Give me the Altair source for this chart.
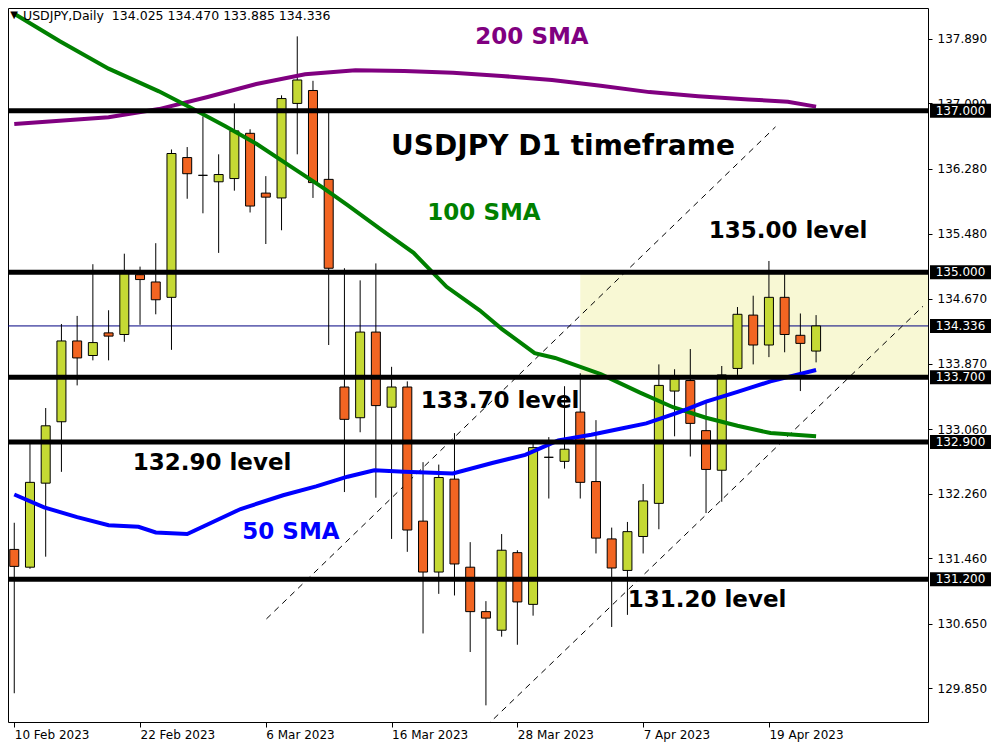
import altair as alt
import pandas as pd

# ---------------- data ----------------
dates = ["10 Feb 2023", "13 Feb 2023", "14 Feb 2023", "15 Feb 2023", "16 Feb 2023", "17 Feb 2023",
         "20 Feb 2023", "21 Feb 2023", "22 Feb 2023", "23 Feb 2023", "24 Feb 2023", "27 Feb 2023",
         "28 Feb 2023", "1 Mar 2023", "2 Mar 2023", "3 Mar 2023", "6 Mar 2023", "7 Mar 2023",
         "8 Mar 2023", "9 Mar 2023", "10 Mar 2023", "13 Mar 2023", "14 Mar 2023", "15 Mar 2023",
         "16 Mar 2023", "17 Mar 2023", "20 Mar 2023", "21 Mar 2023", "22 Mar 2023", "23 Mar 2023",
         "24 Mar 2023", "27 Mar 2023", "28 Mar 2023", "29 Mar 2023", "30 Mar 2023", "31 Mar 2023",
         "3 Apr 2023", "4 Apr 2023", "5 Apr 2023", "6 Apr 2023", "7 Apr 2023", "10 Apr 2023",
         "11 Apr 2023", "12 Apr 2023", "13 Apr 2023", "14 Apr 2023", "17 Apr 2023", "18 Apr 2023",
         "19 Apr 2023", "20 Apr 2023", "21 Apr 2023", "24 Apr 2023"]

opens = [131.57, 131.35, 132.39, 133.15, 134.15, 133.97, 134.25, 134.23, 134.97, 134.88,
         134.69, 136.42, 136.20, 136.12, 136.16, 136.72, 135.98, 135.92, 137.09, 137.25,
         136.15, 133.58, 133.20, 134.26, 133.33, 133.58, 131.92, 131.29, 132.44, 131.35,
         130.80, 130.57, 131.53, 130.89, 132.71, 132.66, 133.27, 132.41, 131.70, 131.31,
         131.73, 132.14, 133.53, 133.66, 133.04, 132.55, 133.81, 134.47, 134.10, 134.69,
         134.22, 134.025]
highs = [131.90, 132.89, 133.32, 134.36, 134.46, 135.10, 134.53, 135.23, 135.07, 135.36,
         136.52, 136.55, 136.93, 136.46, 137.09, 136.77, 136.19, 137.19, 137.92, 137.37,
         136.99, 135.05, 134.90, 135.11, 133.83, 133.65, 132.65, 132.62, 133.01, 131.66,
         130.93, 131.76, 131.56, 132.88, 132.96, 133.59, 133.75, 133.17, 131.84, 131.91,
         132.38, 133.86, 133.80, 134.05, 133.40, 133.84, 134.57, 134.71, 135.14, 134.98,
         134.49, 134.470]
lows = [129.79, 131.33, 131.48, 132.53, 133.60, 133.91, 133.91, 134.14, 134.35, 134.48,
        134.04, 135.91, 135.73, 135.24, 136.01, 135.74, 135.35, 135.52, 136.46, 135.92,
        134.10, 132.28, 133.02, 132.21, 131.70, 131.54, 130.53, 131.02, 131.00, 130.30,
        129.64, 130.49, 130.39, 130.75, 132.20, 132.57, 132.20, 131.52, 130.61, 130.76,
        131.52, 131.82, 132.97, 132.72, 132.02, 132.16, 133.73, 133.86, 133.95, 134.01,
        133.53, 133.885]
closes = [131.36, 132.40, 133.10, 134.15, 133.94, 134.13, 134.21, 135.00, 134.91, 134.66,
          136.47, 136.22, 136.20, 136.21, 136.75, 135.82, 135.93, 137.15, 137.38, 136.11,
          135.05, 133.18, 134.26, 133.35, 133.58, 131.81, 131.29, 132.46, 131.39, 130.80,
          130.72, 131.56, 130.92, 132.83, 132.71, 132.81, 132.40, 131.71, 131.34, 131.79,
          132.17, 133.60, 133.68, 133.13, 132.56, 133.73, 134.48, 134.10, 134.69, 134.23,
          134.12, 134.336]

sma50_bar = [0, 1.9, 4.0, 6.0, 7.9, 9.0, 11.0, 14.4, 17.1, 19.2, 21.2, 22.9, 24.8, 27.9,
             30.4, 32.5, 34.6, 36.7, 38.7, 40.2, 42.3, 44.0, 46.0, 48.1, 51.0]
sma50_val = [132.25, 132.09, 131.97, 131.87, 131.85, 131.78, 131.76, 132.07, 132.24, 132.35,
             132.47, 132.55, 132.53, 132.51, 132.64, 132.74, 132.92, 132.99, 133.07, 133.13,
             133.27, 133.40, 133.52, 133.65, 133.79]
sma100_bar = [0, 2.9, 6.0, 9.2, 11.2, 13.4, 15.4, 17.5, 19.6, 21.2, 23.4, 25.4, 27.5, 29.6,
              31.0, 33.1, 34.4, 37.3, 39.8, 41.9, 44.0, 46.0, 48.1, 51.0]
sma100_val = [138.20, 137.86, 137.52, 137.24, 137.04, 136.81, 136.59, 136.32, 136.05, 135.83,
              135.52, 135.24, 134.82, 134.53, 134.30, 134.00, 133.94, 133.74, 133.51, 133.33,
              133.20, 133.10, 133.01, 132.97]
sma200_bar = [0, 6.0, 9.2, 12.3, 15.4, 18.5, 21.7, 24.8, 27.9, 31.0, 34.2, 37.3, 40.4, 43.5,
              46.7, 49.2, 51.0]
sma200_val = [136.835, 136.92, 137.02, 137.17, 137.33, 137.45, 137.50, 137.49, 137.47, 137.43,
              137.38, 137.31, 137.23, 137.18, 137.14, 137.11, 137.05]

levels = [137.0, 135.0, 133.7, 132.9, 131.2]
current_price = 134.336
price_ticks = [137.89, 137.09, 136.28, 135.48, 134.67, 133.87, 133.06, 132.26, 131.46, 130.65, 129.85]
zone_start_bar = 36
zone_low, zone_high = 133.7, 135.0
channel_name = ["upper", "upper", "lower", "lower"]
channel_bar = [16.04, 48.42, 30.0, 57.8]
channel_val = [130.71, 136.80, 129.38, 134.58]
header = "USDJPY,Daily\u00a0 134.025 134.470 133.885 134.336"

# ---------------- scales ----------------
X_DOM = [-0.08, 57.8]
Y_DOM = [129.434, 138.271]
W, H = 920, 714
GREEN = "#C5D934"
ORANGE = "#F26522"
FONT = "DejaVu Sans"

tick_bars = list(range(0, len(dates), 8))
label_expr = " : ".join(f"datum.value == {b} ? '{dates[b]}'" for b in tick_bars) + " : ''"

xs = alt.Scale(domain=X_DOM, nice=False, zero=False)
ys = alt.Scale(domain=Y_DOM, nice=False, zero=False)
x_axis = alt.Axis(values=tick_bars, labelExpr=label_expr, labelAlign="left", tickSize=5,
                  tickColor="black", domain=False, grid=False, labelFont=FONT, labelFontSize=12,
                  labelColor="black", labelPadding=2, title=None, labelOverlap=False)
y_axis = alt.Axis(orient="right", values=price_ticks, format=".3f", tickSize=4, tickColor="black",
                  domain=False, grid=False, labelFont=FONT, labelFontSize=12, labelColor="black",
                  labelPadding=5, title=None, labelOverlap=False)


def X(f):
    return alt.X(f, type="quantitative", scale=xs, axis=x_axis)


def Y(f):
    return alt.Y(f, type="quantitative", scale=ys, axis=y_axis)


candles = pd.DataFrame({"i": list(range(len(dates))), "date": dates, "o": opens, "h": highs,
                        "l": lows, "c": closes})
sma = pd.concat([
    pd.DataFrame({"i": sma200_bar, "v": sma200_val, "s": "200"}),
    pd.DataFrame({"i": sma100_bar, "v": sma100_val, "s": "100"}),
    pd.DataFrame({"i": sma50_bar, "v": sma50_val, "s": "50"}),
])
channel = pd.DataFrame({"g": channel_name, "i": channel_bar, "v": channel_val})
zone = pd.DataFrame({"i": [zone_start_bar], "i2": [X_DOM[1] + 3], "lo": [zone_low], "hi": [zone_high]})
lev = pd.DataFrame({"p": levels})
boxes = pd.DataFrame({"p": levels + [current_price],
                      "t": [f"{v:.3f}" for v in levels + [current_price]]})

zone_layer = alt.Chart(zone).mark_rect(color="#F8F8D4", clip=True).encode(
    x=X("i"), x2="i2", y=Y("lo"), y2="hi")
cur_line = alt.Chart(pd.DataFrame({"p": [current_price]})).mark_rule(
    color="#000080", strokeWidth=1).encode(y=Y("p"))
channel_layer = alt.Chart(channel).mark_line(
    color="black", strokeWidth=1, strokeDash=[6, 5], clip=True).encode(
    x=X("i"), y=Y("v"), detail="g:N")
wicks = alt.Chart(candles).mark_rule(color="black", strokeWidth=1, clip=True).encode(
    x=X("i"), y=Y("l"), y2="h")
bodies = alt.Chart(candles).mark_bar(size=9, stroke="black", strokeWidth=1, clip=True).encode(
    x=X("i"), y=Y("o"), y2="c",
    fill=alt.condition("datum.c >= datum.o", alt.value(GREEN), alt.value(ORANGE)))
sma_layer = alt.Chart(sma).mark_line(strokeWidth=4, clip=True).encode(
    x=X("i"), y=Y("v"),
    color=alt.Color("s:N", scale=alt.Scale(domain=["200", "100", "50"],
                                           range=["#800080", "#008000", "#0000FF"]), legend=None))
level_lines = alt.Chart(lev).mark_rule(color="black", strokeWidth=5).encode(y=Y("p"))

box_rules = alt.Chart(boxes).mark_rule(color="black", strokeWidth=14, strokeCap="butt", clip=False).encode(
    y=Y("p"), x=alt.value(922), x2=alt.value(983))
box_text = alt.Chart(boxes).mark_text(color="white", font=FONT, fontSize=12, align="center",
                                      baseline="middle", clip=False).encode(
    y=Y("p"), x=alt.value(952.5), text="t:N")


def note(txt, px, py, color="black", size=23):
    return alt.Chart(pd.DataFrame({"t": [txt]})).mark_text(
        font=FONT, fontWeight="bold", fontSize=size, color=color, align="center",
        baseline="middle").encode(x=alt.value(px), y=alt.value(py), text="t:N")


notes = [
    note("200 SMA", 524, 29, "#800080"),
    note("USDJPY D1 timeframe", 555, 139, "black", 28),
    note("100 SMA", 476, 205, "#008000"),
    note("135.00 level", 780, 223),
    note("133.70 level", 492, 393),
    note("132.90 level", 204, 455),
    note("50 SMA", 283, 524, "#0000FF"),
    note("131.20 level", 699, 592),
]

head_tri = alt.Chart(pd.DataFrame({"t": ["\u25bc"]})).mark_text(
    font=FONT, fontSize=10, color="black", align="center", baseline="middle").encode(
    x=alt.value(6), y=alt.value(7), text="t:N")
head_txt = alt.Chart(pd.DataFrame({"t": [header]})).mark_text(
    font=FONT, fontSize=12.5, color="black", align="left", baseline="middle").encode(
    x=alt.value(15), y=alt.value(8), text="t:N")

chart = alt.layer(
    zone_layer, cur_line, channel_layer, wicks, bodies, sma_layer, level_lines,
    *notes, head_tri, head_txt, box_rules, box_text
).properties(
    width=W, height=H, background="white",
    padding={"left": 0, "top": 0, "right": 64, "bottom": 22},
    autosize=alt.AutoSizeParams(type="none"),
).configure_view(
    stroke="black", strokeWidth=1
)

chart.save("out.html", embed_options={"renderer": "svg", "actions": False})
